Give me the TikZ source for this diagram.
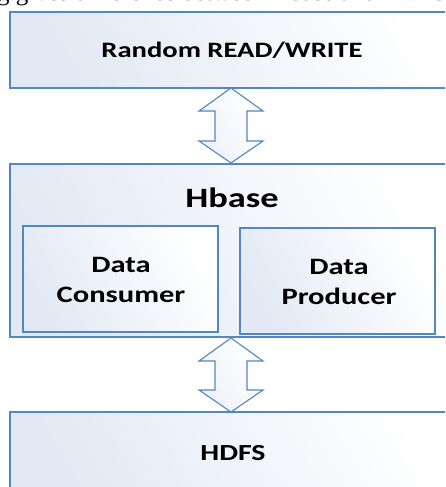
\documentclass[tikz,border=0pt]{standalone}
\usepackage{fontspec}
\setmainfont{Carlito}[FakeStretch=1.3]
\newfontfamily\capfont{Liberation Serif}
\definecolor{edgeblue}{RGB}{84,134,192}
\definecolor{paleblue}{RGB}{226,233,244}
\tikzset{
  panel/.style={draw=edgeblue, line width=1.1pt, left color=paleblue, right color=white, shading angle=120},
  inner/.style={panel, line width=1.3pt},
  bigarrow/.style={draw=edgeblue, line width=1.1pt, left color=paleblue!60, right color=white, shading angle=120, line join=miter},
  lbl/.style n args={2}{font=\bfseries\fontsize{#1}{#2}\selectfont, align=center, inner sep=0pt}
}
% vertical double arrow between two y positions, centred on x
\newcommand\twowaylink[3]{%
  \path[bigarrow] (#1,#2) -- ++(32,23) -- ++(-16,0) |- (#1+16,#3-22) -- ++(16,0)
    -- (#1,#3) -- ++(-32,-22) -- ++(16,0) |- (#1-16,#2+23) -- ++(-16,0) -- cycle;}
\begin{document}
\begin{tikzpicture}[x=1pt,y=-1pt]
\useasboundingbox (0,0) rectangle (445,487);
\clip (0,0) rectangle (445,487);
\fill[white] (0,0) rectangle (445,487);

% caption line running off the top
\node[anchor=base west, inner sep=0pt, font=\capfont\fontsize{25}{30}\selectfont] (cap) at (-3,1) {g gives difference between Hbase and HDFS};

% panels
\path[panel] (10,12) rectangle (470,88);
\node[lbl={22}{27}] (rw) at (232,50) {Random READ/WRITE};

\path[panel] (10,164) rectangle (470,337);
\node[lbl={28}{34}] (hb) at (232,198) {Hbase};

\path[inner] (23,226) rectangle (218,332);
\node[lbl={23.5}{30}] (dc) at (121,280) {Data\\Consumer};

\path[inner] (240,228) rectangle (435,334);
\node[lbl={23.5}{30}] (dp) at (339,282) {Data\\Producer};

\path[panel] (10,412) rectangle (470,500);
\node[lbl={23}{28}] (hd) at (233,453) {HDFS};

% two-way links
\twowaylink{231}{88}{163}
\twowaylink{231}{338}{412}
\end{tikzpicture}
\end{document}
